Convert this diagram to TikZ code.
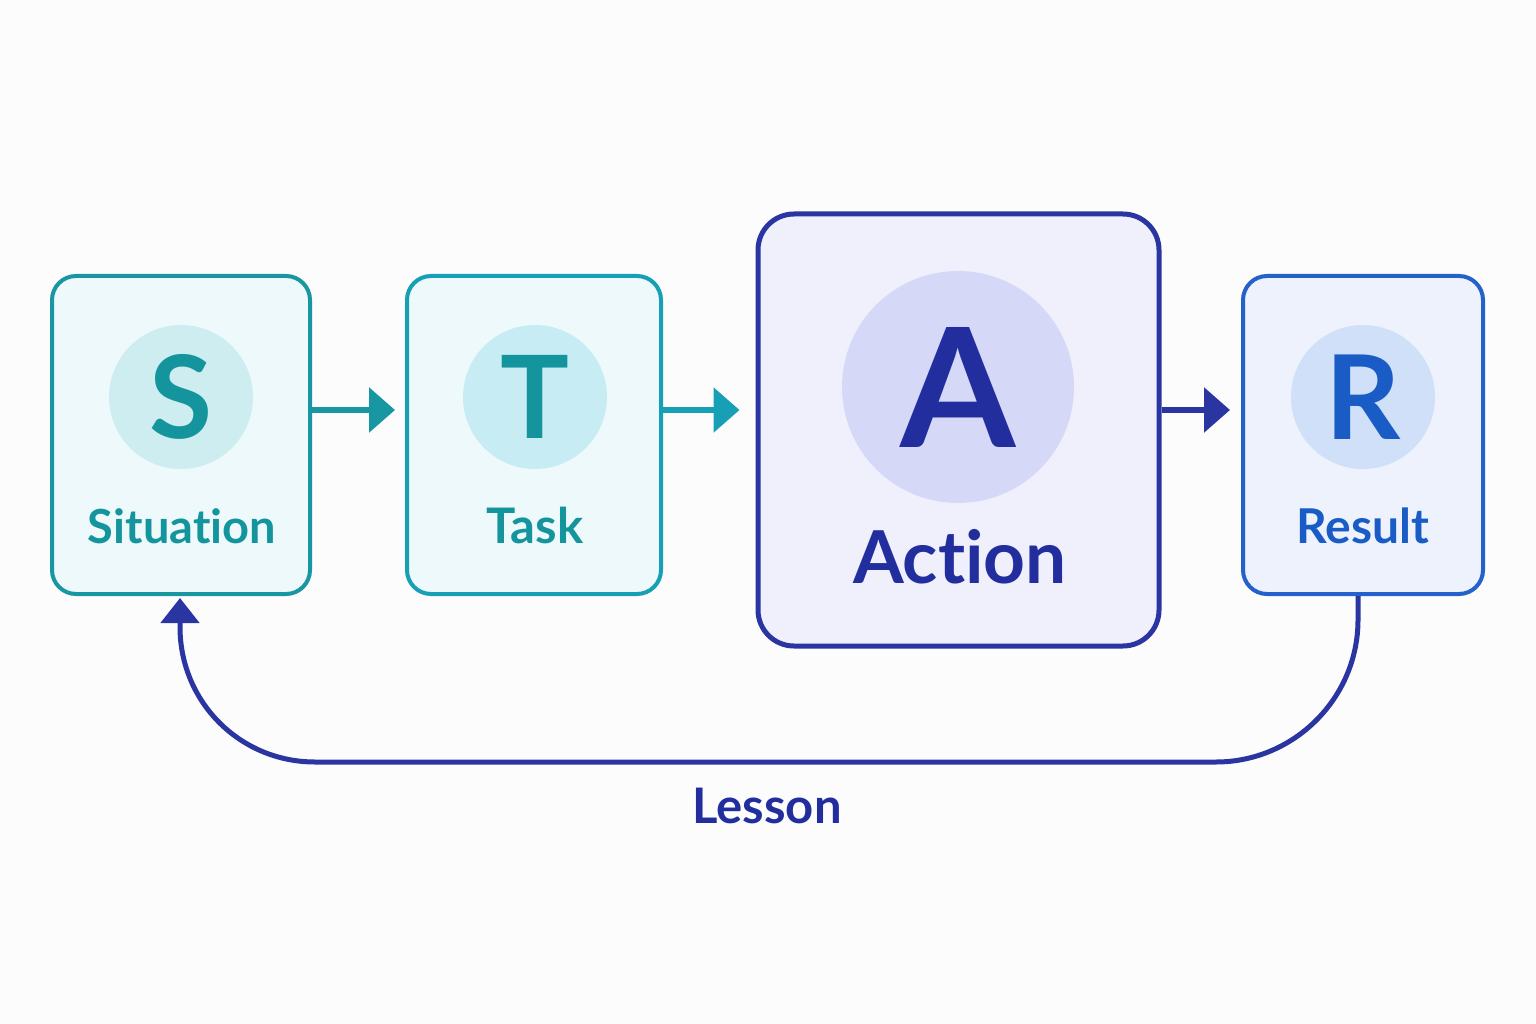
\documentclass[tikz,border=0pt]{standalone}
\usepackage{fontspec}
\setmainfont{Lato}[Ligatures={NoCommon}]
\usetikzlibrary{arrows.meta}
\definecolor{bgc}{HTML}{FCFCFD}
\definecolor{teal1}{HTML}{1897A3}
\definecolor{teal2}{HTML}{17A0B5}
\definecolor{tealtxt}{HTML}{14959E}
\definecolor{tealfill}{HTML}{EEF9FC}
\definecolor{tealcirc}{HTML}{CDEDF0}
\definecolor{tcirc}{HTML}{C8ECF3}
\definecolor{navy}{HTML}{2B35A2}
\definecolor{navytxt}{HTML}{222E9E}
\definecolor{navyfill}{HTML}{EFF0FC}
\definecolor{navycirc}{HTML}{D5D8F7}
\definecolor{blue1}{HTML}{2461CA}
\definecolor{bluetxt}{HTML}{1A5CC6}
\definecolor{bluefill}{HTML}{EDF2FC}
\definecolor{bluecirc}{HTML}{CFE0F8}
\newcommand{\fs}[1]{\fontsize{#1}{#1}\selectfont\bfseries}
\tikzset{
  card/.style={draw, rectangle, rounded corners=24pt, line width=4pt, minimum height=318pt, inner sep=0pt},
  disc/.style={circle, inner sep=0pt, minimum size=144pt},
  lbl/.style={anchor=base, inner sep=0pt},
  flow/.style={line width=6pt, -{Triangle[length=26pt,width=44pt]}},
}
\begin{document}
\begin{tikzpicture}[x=1pt,y=-1pt]
\fill[bgc] (0,0) rectangle (1536,1024);
\useasboundingbox (0,0) rectangle (1536,1024);
% boxes
\node[card, draw=teal1, fill=tealfill, minimum width=258pt] (S) at (181,435) {};
\node[card, draw=teal2, fill=tealfill, minimum width=254pt] (T) at (534,435) {};
\node[card, draw=navy, fill=navyfill, minimum width=401pt, minimum height=432pt, rounded corners=36pt, line width=5pt] (A) at (958.5,430) {};
\node[card, draw=blue1, fill=bluefill, minimum width=240pt] (R) at (1363,435) {};
% circles with letters
\node[disc, fill=tealcirc, text=tealtxt] (Sc) at (181,397) {\fs{115}S};
\node[disc, fill=tcirc, text=tealtxt] (Tc) at (535,397) {\fs{115}T};
\node[disc, fill=navycirc, text=navytxt, minimum size=232pt] (Ac) at (958,387) {\fs{166}A};
\node[disc, fill=bluecirc, text=bluetxt] (Rc) at (1363,397) {\fs{117}R};
% labels
\node[lbl, text=tealtxt] (Sl) at (182,543) {\fs{47}Situation};
\node[lbl, text=tealtxt] (Tl) at (535,543) {\fs{49}Task};
\node[lbl, text=navytxt] (Al) at (960,583) {\fs{73}Action};
\node[lbl, text=bluetxt] (Rl) at (1363,543) {\fs{48}Result};
\node[lbl, text=navytxt] (Ll) at (767,823) {\fs{49}Lesson};
% flow arrows
\draw[flow, teal1, shorten >=10pt] ([yshift=25pt]S.east) -- ([yshift=25pt]T.west);
\draw[flow, teal2, shorten >=16pt] ([yshift=25pt]T.east) -- ([yshift=20pt]A.west);
\draw[flow, navy, shorten >=11pt] ([yshift=20pt]A.east) -- ([yshift=25pt]R.west);
% lesson loop
\coordinate (r1) at (1358,620);
\coordinate (r2) at (1216,762);
\coordinate (l1) at (315,762);
\coordinate (l2) at (180,627);
\coordinate (sb) at (180,598);
\draw[line width=5pt, navy, -{Triangle[length=25pt,width=38pt]}]
  (R.south -| r1) -- (r1) .. controls (1358,698) and (1294,762) .. (r2)
  -- (l1) .. controls (240,762) and (180,702) .. (l2) -- (sb);
\end{tikzpicture}
\end{document}
